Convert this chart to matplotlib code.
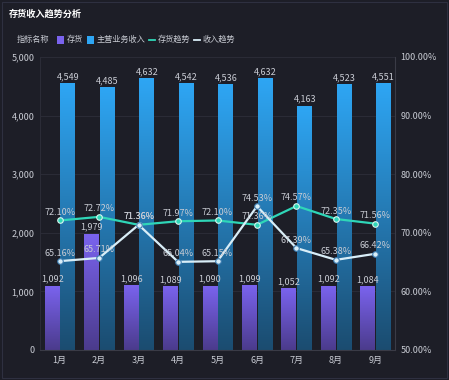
import matplotlib
matplotlib.use("Agg")
import matplotlib.pyplot as plt
import numpy as np
from matplotlib.colors import LinearSegmentedColormap
from matplotlib.patches import Rectangle
from matplotlib.lines import Line2D

plt.rcParams['font.family'] = ['Noto Sans CJK SC', 'DejaVu Sans']

months = ['1月', '2月', '3月', '4月', '5月', '6月', '7月', '8月', '9月']
inventory = [1092, 1979, 1096, 1089, 1090, 1099, 1052, 1092, 1084]
revenue = [4549, 4485, 4632, 4542, 4536, 4632, 4163, 4523, 4551]
inv_trend = [72.10, 72.72, 71.36, 71.97, 72.10, 71.36, 74.57, 72.35, 71.56]
rev_trend = [65.16, 65.71, 71.36, 65.04, 65.15, 74.53, 67.39, 65.38, 66.42]

BG = '#1d1e27'
TXT = '#c9ccd4'

fig = plt.figure(figsize=(4.49, 3.8), dpi=100, facecolor=BG)
ax = fig.add_axes([0.089, 0.079, 0.791, 0.771], facecolor=BG)
ax2 = ax.twinx()

x = np.arange(len(months))
w = 0.38

purple = LinearSegmentedColormap.from_list('p', ['#4b3b8c', '#7a63ee'])
blue = LinearSegmentedColormap.from_list('b', ['#1b4c70', '#2ea6f4'])
grad = np.linspace(0, 1, 256).reshape(-1, 1)

ax.set_xlim(-0.5, len(months) - 0.5)
ax.set_ylim(0, 5000)

for xi, v in zip(x, inventory):
    ax.imshow(grad, cmap=purple, origin='lower', aspect='auto',
              extent=(xi - w, xi, 0, v), zorder=2)
    ax.text(xi - w / 2, v + 40, f'{v:,}', ha='center', va='bottom',
            color=TXT, fontsize=6.5, zorder=5)
for xi, v in zip(x, revenue):
    ax.imshow(grad, cmap=blue, origin='lower', aspect='auto',
              extent=(xi + 0.02, xi + 0.02 + w, 0, v), zorder=2)
    ax.text(xi + 0.02 + w / 2, v + 40, f'{v:,}', ha='center', va='bottom',
            color=TXT, fontsize=6.5, zorder=5)

ax.set_xlim(-0.5, len(months) - 0.5)
ax.set_ylim(0, 5000)
ax.set_yticks(range(0, 5001, 1000))
ax.set_yticklabels([f'{t:,}' for t in range(0, 5001, 1000)])
ax.set_xticks(x)
ax.set_xticklabels(months)
ax.grid(axis='y', color='#2b2c37', linewidth=0.7, zorder=0)
ax.set_axisbelow(True)

teal = '#2fd6b8'
white = '#d9eef8'
ax2.plot(x, inv_trend, color=teal, linewidth=1.6, marker='o', markersize=4,
         markerfacecolor=teal, markeredgecolor='#d9f7f0', markeredgewidth=0.8, zorder=6)
ax2.plot(x, rev_trend, color=white, linewidth=1.6, marker='o', markersize=4,
         markerfacecolor=white, markeredgecolor='#3a7bb0', markeredgewidth=0.8, zorder=6)
for xi, v in zip(x, inv_trend):
    ax2.text(xi, v + 0.6, f'{v:.2f}%', ha='center', va='bottom', color=TXT, fontsize=6.5, zorder=7)
for xi, v in zip(x, rev_trend):
    ax2.text(xi, v + 0.6, f'{v:.2f}%', ha='center', va='bottom', color=TXT, fontsize=6.5, zorder=7)
ax2.set_ylim(50, 100)
ax2.set_yticks(range(50, 101, 10))
ax2.set_yticklabels([f'{t:.2f}%' for t in range(50, 101, 10)])

for a in (ax, ax2):
    a.tick_params(colors=TXT, labelsize=6.5, length=0, pad=4)
    for s in a.spines.values():
        s.set_visible(False)
ax.spines['bottom'].set_visible(True)
ax.spines['bottom'].set_color('#3a3b46')
ax.spines['left'].set_visible(True)
ax.spines['left'].set_color('#2b2c37')
ax2.spines['right'].set_visible(True)
ax2.spines['right'].set_color('#3a3b46')

# title
fig.text(0.020, 0.963, '存货收入趋势分析', color='white', fontsize=6.6, fontweight='bold', va='center')

# legend
ly = 0.895
lfs = 5.9
fig.text(0.038, ly, '指标名称', color=TXT, fontsize=lfs, va='center')
fig.patches.append(Rectangle((0.127, ly - 0.010), 0.016, 0.019, transform=fig.transFigure,
                             facecolor='#7a63ee', edgecolor='none'))
fig.text(0.149, ly, '存货', color=TXT, fontsize=lfs, va='center')
fig.patches.append(Rectangle((0.194, ly - 0.010), 0.016, 0.019, transform=fig.transFigure,
                             facecolor='#2ea6f4', edgecolor='none'))
fig.text(0.216, ly, '主营业务收入', color=TXT, fontsize=lfs, va='center')
fig.lines.append(Line2D([0.332, 0.345], [ly, ly], transform=fig.transFigure, color=teal, linewidth=1.3))
fig.text(0.352, ly, '存货趋势', color=TXT, fontsize=lfs, va='center')
fig.lines.append(Line2D([0.432, 0.445], [ly, ly], transform=fig.transFigure, color=white, linewidth=1.3))
fig.text(0.452, ly, '收入趋势', color=TXT, fontsize=lfs, va='center')

# frame
fig.patches.append(Rectangle((0.004, 0.005), 0.992, 0.99, transform=fig.transFigure,
                             facecolor='none', edgecolor='#2e3040', linewidth=0.8))

fig.savefig('out.png', dpi=100, facecolor=BG)
